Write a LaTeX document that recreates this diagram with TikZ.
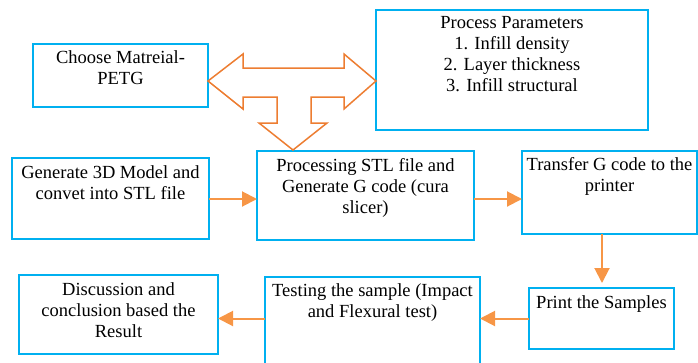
\documentclass[tikz,border=0pt]{standalone}
\usepackage{fontspec}
\setmainfont{Liberation Serif}
\newfontfamily\boxfont{Liberation Serif}
\usetikzlibrary{arrows.meta}
\definecolor{boxblue}{HTML}{00B0F0}
\definecolor{bigorange}{HTML}{ED7D31}
\definecolor{linkorange}{HTML}{F79646}
\begin{document}
\begin{tikzpicture}[x=1pt,y=-1pt,
  stepbox/.style={draw=boxblue, line width=1.5pt, inner sep=0pt, outer sep=0pt, fill=white},
  txt/.style={anchor=north, inner sep=0pt, align=center, text=black,
              font=\boxfont\fontsize{18.5}{21}\selectfont},
  link/.style={draw=linkorange, line width=2pt,
               -{Triangle[length=15pt,width=15pt]}}]
\useasboundingbox (0,0) rectangle (698,362);

% process boxes
\node[stepbox, minimum width=175pt, minimum height=63pt] (choose) at (120.5,75.5) {};
\node[stepbox, minimum width=272pt, minimum height=120pt] (params) at (512,70) {};
\node[stepbox, minimum width=197pt, minimum height=81pt] (gen) at (110.5,198.5) {};
\node[stepbox, minimum width=217pt, minimum height=89pt] (proc) at (365.5,195.5) {};
\node[stepbox, minimum width=175pt, minimum height=83pt] (trans) at (609.5,192.5) {};
\node[stepbox, minimum width=145pt, minimum height=61pt] (print) at (601.5,318.5) {};
\node[stepbox, minimum width=215pt, minimum height=95pt] (test) at (372.5,324.5) {};
\node[stepbox, minimum width=199pt, minimum height=79pt] (disc) at (118.5,314.5) {};

% box texts
\node[txt] (choose-t) at (120.5,50) {Choose Matreial-\\PETG};
\node[txt] (params-t) at (512,16) {Process Parameters\\1. Infill density\\2. Layer thickness\\3. Infill structural};
\node[txt] (gen-t) at (110.5,165) {Generate 3D Model and\\convet into STL file};
\node[txt] (proc-t) at (365.5,158) {Processing STL file and\\Generate G code (cura\\slicer)};
\node[txt] (trans-t) at (609.5,157) {Transfer G code to the\\printer};
\node[txt] (print-t) at (601.5,295) {Print the Samples};
\node[txt] (test-t) at (372.5,283) {Testing the sample (Impact\\and Flexural test)};
\node[txt] (disc-t) at (118.5,282) {Discussion and\\conclusion based the\\Result};

% three-way block arrow between material, parameters and slicing
\draw[bigorange, line width=1.5pt, line join=miter, fill=white]
  (208,81) -- (243,54) -- (243,68) -- (344,68) -- (344,54) -- (376,81)
  -- (344,109) -- (344,97) -- (311,97) -- (311,123) -- (327,123)
  -- (293,150) -- (259,123) -- (277,123) -- (277,97) -- (243,97)
  -- (243,109) -- cycle;

% connector levels
\coordinate (rowA) at (0,199);
\coordinate (rowB) at (0,318.5);
\coordinate (colC) at (602,0);

\draw[link] (gen.east |- rowA) -- (proc.west |- rowA);
\draw[link] (proc.east |- rowA) -- (trans.west |- rowA);
\draw[link, shorten >=5pt] (trans.south -| colC) -- (print.north -| colC);
\draw[link] (print.west |- rowB) -- (test.east |- rowB);
\draw[link] (test.west |- rowB) -- (disc.east |- rowB);
\end{tikzpicture}
\end{document}
